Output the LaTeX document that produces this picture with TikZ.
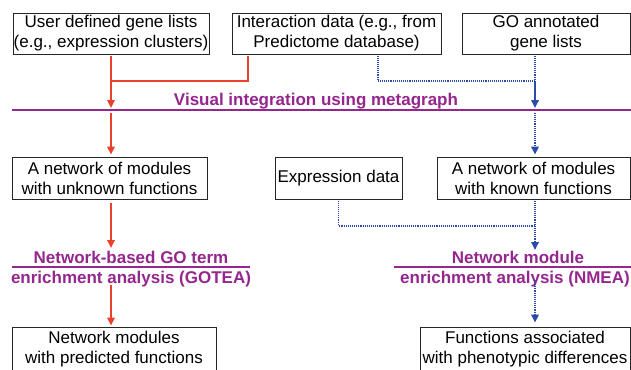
\documentclass[tikz,border=0pt]{standalone}
\usepackage{fontspec}
\setmainfont{Liberation Sans}
\usepackage{tikz}
\usetikzlibrary{calc}
\usetikzlibrary{arrows.meta}

\definecolor{metapurple}{RGB}{148, 38, 142}
\definecolor{gotered}{RGB}{234, 64, 44}
\definecolor{nmeablue}{RGB}{44, 74, 170}

\begin{document}
\begin{tikzpicture}[x = 1pt, y = -1pt,
	box/.style = {draw = black!85, line width = 0.9pt, inner sep = 0pt, align = center, font = \fontsize{17}{20}\selectfont},
	heading/.style = {text = metapurple, inner sep = 0pt, anchor = base, font = \fontsize{17}{20}\selectfont\bfseries},
	sepline/.style = {metapurple, line width = 1.8pt},
	redline/.style = {gotered, line width = 1.7pt},
	bluesolid/.style = {nmeablue, line width = 1.7pt},
	blueline/.style = {bluesolid, dash pattern = on 1pt off 0.9pt},
	arr/.style = {-{Triangle[length = 8pt, width = 7.5pt]}}]
							\useasboundingbox (0, 0) rectangle (631, 369);
							\clip (0, 0) rectangle (631, 369);

							\node[box, minimum width = 196pt, minimum height = 41pt](user) at (111, 33.5){User defined gene lists\\(e.g., expression clusters)};
							\node[box, minimum width = 209pt, minimum height = 41pt](inter) at (336.5, 33.5){Interaction data (e.g., from\\Predictome database)};
							\node[box, minimum width = 168pt, minimum height = 41pt](golist) at (546, 33.5){GO annotated\\gene lists};

							\node[box, minimum width = 195pt, minimum height = 42pt](unknown) at (109.5, 178){A network of modules\\with unknown functions};
							\node[box, minimum width = 127pt, minimum height = 42pt](expr) at (338.5, 178){Expression data};
							\node[box, minimum width = 193pt, minimum height = 42pt](known) at (533.5, 178){A network of modules\\with known functions};

							\node[box, minimum width = 204pt, minimum height = 44pt](predicted) at (114, 349){Network modules\\with predicted functions};
							\node[box, minimum width = 210pt, minimum height = 44pt](phenotype) at (525, 349){Functions associated\\with phenotypic differences};

							\coordinate[](vl1) at (12, 110);
							\coordinate[](vl2) at (631, 110);
							\draw[sepline] (vl1)--(vl2);
							\node[heading](visual) at (316, 105){Visual integration using metagraph};

							\coordinate[](gl1) at (12, 267);
							\coordinate[](gl2) at (250, 267);
							\draw[sepline] (gl1)--(gl2);
							\node[heading](gotea1) at (131, 263){Network-based GO term};
							\node[heading](gotea2) at (131, 283){enrichment analysis (GOTEA)};

							\coordinate[](nl1) at (394, 267);
							\coordinate[](nl2) at (631, 267);
							\draw[sepline] (nl1)--(nl2);
							\node[heading](nmea1) at (518, 263){Network module};
							\node[heading](nmea2) at (515, 283){enrichment analysis (NMEA)};

							\coordinate[](rv) at (111, 110);
							\coordinate[](rj) at (111, 81);
							\coordinate[](rg) at (111, 248);
							\coordinate[](rp) at (111, 285);
							\draw[redline, shorten < = 2pt] ([xshift = -88.5pt]inter.south) |- (rj);
							\draw[redline, arr, shorten < = 2pt] (user.south -| rv)--([yshift = 2pt]rv);
							\draw[redline, arr, shorten > = 2pt] ([yshift = -3pt]rv)--(rv |- unknown.north);
							\draw[redline, arr, shorten < = 4pt] (unknown.south -| rv)--(rg);
							\draw[redline, arr, shorten > = 1pt] (rp)--(rp |- predicted.north);

							\coordinate[](bv) at (535, 110);
							\coordinate[](bj) at (535, 81);
							\coordinate[](bk) at (535, 226);
							\coordinate[](bn) at (535, 250);
							\coordinate[](bp) at (535, 280);
							\draw[blueline, shorten < = 2pt] ([xshift = 41.5pt]inter.south) |- (bj);
							\draw[blueline, shorten < = 2pt] (golist.south -| bj)--(bj);
							\draw[bluesolid, arr] (bj)--([yshift = 2pt]bv);
							\draw[blueline, arr, shorten > = 2pt] ([yshift = -3pt]bv)--(bv |- known.north);
							\draw[blueline, shorten < = 2pt] (expr.south) |- (bk);
							\draw[blueline, arr, shorten < = 2pt] (known.south -| bk)--(bn);
							\draw[blueline, arr, shorten > = 4pt] (bp)--(bp |- phenotype.north);
						\end{tikzpicture}
\end{document}
